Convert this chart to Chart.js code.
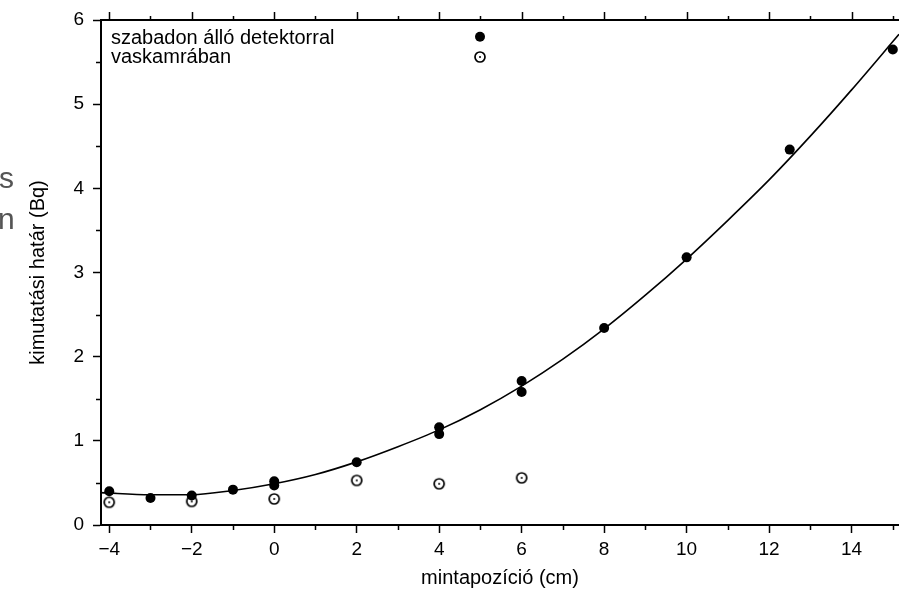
<!DOCTYPE html>
<html>
<head>
<meta charset="utf-8">
<script src="https://cdn.jsdelivr.net/npm/chart.js@4/dist/chart.umd.min.js"></script>
<style>
  html, body { margin: 0; padding: 0; background: #fff; }
</style>
</head>
<body>
<canvas id="myChart" width="899" height="597"></canvas>
<script>
// measured points, "szabadon álló detektorral"
const freeX = [-4, -3, -2, -1, 0, 0, 2, 4, 4, 6, 6, 8, 10, 12.5, 15];
const freeY = [0.40, 0.32, 0.35, 0.42, 0.52, 0.47, 0.745, 1.16, 1.08, 1.71, 1.58, 2.34, 3.18, 4.46, 5.65];
// measured points, "vaskamrában"
const ironX = [-4, -2, 0, 2, 4, 6];
const ironY = [0.27, 0.28, 0.31, 0.53, 0.49, 0.56];
// fitted curve
const fitX = [-4.2, -3, -2, -1, 0, 1, 2, 3, 4, 5, 6, 7, 8, 9, 10, 11, 12, 13, 14, 15.15];
const fitY = [0.385, 0.36, 0.36, 0.41, 0.49, 0.60, 0.75, 0.93, 1.13, 1.37, 1.65, 1.97, 2.33, 2.73, 3.16, 3.62, 4.10, 4.62, 5.17, 5.83];

const xTicks = [-4, -2, 0, 2, 4, 6, 8, 10, 12, 14];
const xMinor = [-3, -1, 1, 3, 5, 7, 9, 11, 13, 15];
const yTicks = [0, 1, 2, 3, 4, 5, 6];
const yMinor = [0.5, 1.5, 2.5, 3.5, 4.5, 5.5];

const legendLabels = ["szabadon álló detektorral", "vaskamrában"];
const legendMarkX = 5;
const legendMarkY = [5.8, 5.56];

const FONT = "'Liberation Sans', Arial, Helvetica, sans-serif";

// open circle with a dot in the middle
const openDot = document.createElement("canvas");
openDot.width = 14;
openDot.height = 14;
(function () {
  const c = openDot.getContext("2d");
  c.fillStyle = "#fff";
  c.strokeStyle = "#000";
  c.lineWidth = 1.7;
  c.beginPath();
  c.arc(7, 7, 5, 0, Math.PI * 2);
  c.fill();
  c.stroke();
  c.fillStyle = "#000";
  c.beginPath();
  c.arc(7, 7, 1, 0, Math.PI * 2);
  c.fill();
})();

const extras = {
  id: "extras",
  afterDraw(chart) {
    const ctx = chart.ctx;
    const xs = chart.scales.x, ys = chart.scales.y;
    const a = chart.chartArea;
    ctx.save();
    ctx.strokeStyle = "#000";

    // top frame line
    ctx.lineWidth = 2;
    ctx.beginPath();
    ctx.moveTo(a.left - 1, a.top);
    ctx.lineTo(a.right, a.top);
    ctx.stroke();

    ctx.lineWidth = 1.5;
    ctx.beginPath();
    xTicks.forEach(v => {
      const px = Math.round(xs.getPixelForValue(v)) + 0.5;
      ctx.moveTo(px, a.top);
      ctx.lineTo(px, a.top - 8);
    });
    xMinor.forEach(v => {
      const px = Math.round(xs.getPixelForValue(v)) + 0.5;
      ctx.moveTo(px, a.top);
      ctx.lineTo(px, a.top - 4);
      ctx.moveTo(px, a.bottom);
      ctx.lineTo(px, a.bottom + 5);
    });
    yMinor.forEach(v => {
      const py = Math.round(ys.getPixelForValue(v)) + 0.5;
      ctx.moveTo(a.left, py);
      ctx.lineTo(a.left - 5, py);
    });
    ctx.stroke();

    // legend
    ctx.fillStyle = "#000";
    ctx.font = "20px " + FONT;
    ctx.textBaseline = "alphabetic";
    ctx.fillText(legendLabels[0], 111, 44);
    ctx.fillText(legendLabels[1], 111, 63);
    const mx = Math.round(xs.getPixelForValue(legendMarkX));
    ctx.beginPath();
    ctx.arc(mx, ys.getPixelForValue(legendMarkY[0]), 5, 0, Math.PI * 2);
    ctx.fill();
    ctx.drawImage(openDot, mx - 7, Math.round(ys.getPixelForValue(legendMarkY[1])) - 7);

    // cut-off text at the left edge
    ctx.fillStyle = "#555";
    ctx.font = "30px " + FONT;
    ctx.fillText("s", -1, 188);
    ctx.fillText("n", -2, 229);
    ctx.restore();
  }
};

const minus = v => String(v).replace("-", "\u2212");

new Chart(document.getElementById("myChart").getContext("2d"), {
  type: "scatter",
  data: {
    datasets: [
      {
        label: "illesztés",
        data: fitX.map((x, i) => ({ x: x, y: fitY[i] })),
        showLine: true,
        borderColor: "#000",
        borderWidth: 1.6,
        pointRadius: 0,
        cubicInterpolationMode: "monotone",
        order: 3
      },
      {
        label: legendLabels[1],
        data: ironX.map((x, i) => ({ x: x, y: ironY[i] })),
        pointStyle: openDot,
        pointRadius: 7,
        order: 2
      },
      {
        label: legendLabels[0],
        data: freeX.map((x, i) => ({ x: x, y: freeY[i] })),
        backgroundColor: "#000",
        borderColor: "#000",
        pointRadius: 5,
        borderWidth: 0,
        order: 1
      }
    ]
  },
  options: {
    responsive: false,
    animation: false,
    layout: { autoPadding: false, padding: { top: 20, right: 0, left: 0, bottom: 0 } },
    plugins: { legend: { display: false }, tooltip: { enabled: false } },
    scales: {
      x: {
        type: "linear",
        min: -4.2,
        max: 15.15,
        afterBuildTicks: s => { s.ticks = xTicks.map(v => ({ value: v })); },
        afterFit: s => { s.height = 72; s.paddingLeft = 0; s.paddingRight = 0; },
        border: { display: true, color: "#000", width: 2 },
        grid: { drawOnChartArea: false, drawTicks: true, tickLength: 8, tickColor: "#000", tickWidth: 1.5 },
        ticks: { color: "#000", font: { family: FONT, size: 19 }, padding: 5, maxRotation: 0, callback: v => minus(v) },
        title: { display: true, text: "mintapozíció (cm)", color: "#000", font: { family: FONT, size: 20 }, padding: { top: 0, bottom: 7 } }
      },
      y: {
        type: "linear",
        min: 0,
        max: 6,
        afterBuildTicks: s => { s.ticks = yTicks.map(v => ({ value: v })); },
        afterFit: s => { s.width = 101; s.paddingTop = 0; s.paddingBottom = 0; },
        border: { display: true, color: "#000", width: 2 },
        grid: { drawOnChartArea: false, drawTicks: true, tickLength: 8, tickColor: "#000", tickWidth: 1.5 },
        ticks: { color: "#000", font: { family: FONT, size: 19 }, padding: 9 },
        title: { display: true, text: "kimutatási határ (Bq)", color: "#000", font: { family: FONT, size: 20 }, padding: { top: 26, bottom: 0 } }
      }
    }
  },
  plugins: [extras]
});
</script>
</body>
</html>
